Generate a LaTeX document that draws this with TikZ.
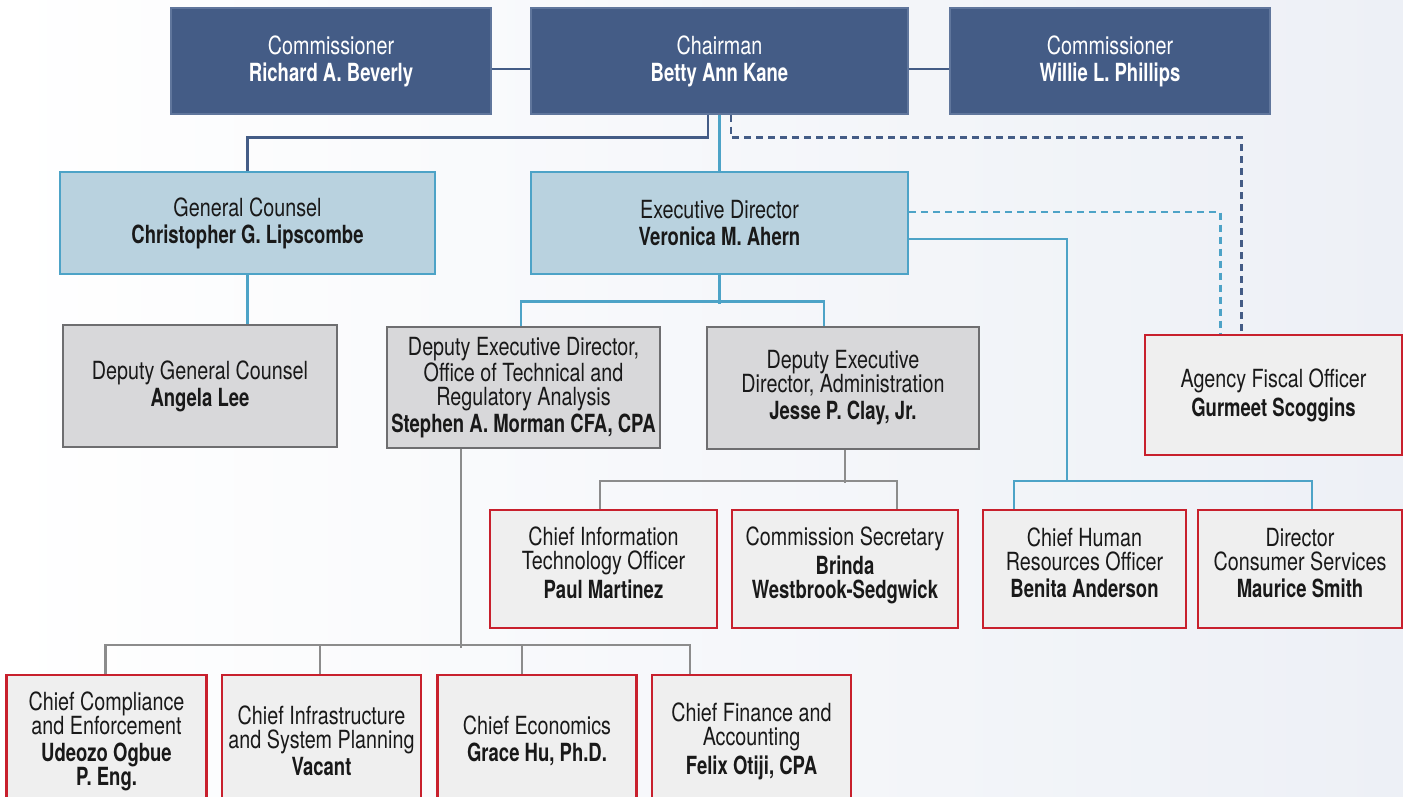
\documentclass[tikz,border=0pt]{standalone}
\usepackage{fontspec}
\setmainfont{TeX Gyre Heros}[FakeStretch=0.79, BoldFeatures={FakeStretch=0.74}]
\usetikzlibrary{calc}

\definecolor{navy}{RGB}{68,92,134}
\definecolor{navyline}{RGB}{96,118,156}
\definecolor{paleblue}{RGB}{185,210,223}
\definecolor{skyline}{RGB}{77,163,199}
\definecolor{deputygray}{RGB}{216,216,218}
\definecolor{deputyline}{RGB}{110,110,112}
\definecolor{chiefgray}{RGB}{239,239,239}
\definecolor{chiefred}{RGB}{200,32,45}
\definecolor{linkgray}{RGB}{140,140,140}
\definecolor{ink}{RGB}{25,25,25}
\definecolor{bgright}{RGB}{237,240,246}

\begin{document}
\begin{tikzpicture}[x=0.5pt, y=-0.5pt,
  box/.style={draw, rectangle, align=center, inner sep=0pt, text=ink,
    font=\fontsize{12.5}{12}\selectfont},
  board/.style={box, fill=navy, draw=navyline, line width=0.6pt, text=white},
  office/.style={box, fill=paleblue, draw=skyline, line width=1.2pt},
  deputy/.style={box, fill=deputygray, draw=deputyline, line width=1.4pt},
  chief/.style={box, fill=chiefgray, draw=chiefred, line width=1.2pt},
  lifted/.style={text depth=6pt},
  boardlink/.style={draw=navy, line width=1.2pt},
  skylink/.style={draw=skyline, line width=1.2pt},
  greylink/.style={draw=linkgray, line width=1.3pt},
  dotted link/.style={dash pattern=on 3.5pt off 2.5pt}
]

\path [use as bounding box] (0,0) rectangle (1403,797);
\clip (0,0) rectangle (1403,797);
\shade [left color=white, right color=bgright] (0,0) rectangle (1403,797);

% BOARD
\node [board, minimum width=160pt, minimum height=53pt] (rbev) at (331,61)
  {Commissioner\\[1.5pt]\textbf{Richard A. Beverly}};
\node [board, minimum width=188.5pt, minimum height=53pt] (chair) at (719.5,61)
  {Chairman\\[1.5pt]\textbf{Betty Ann Kane}};
\node [board, minimum width=160pt, minimum height=53pt] (wphil) at (1110,61)
  {Commissioner\\[1.5pt]\textbf{Willie L. Phillips}};

% OFFICES
\node [office, minimum width=187.5pt, minimum height=51pt] (gc) at (247.5,223)
  {General Counsel\\[1.5pt]\textbf{Christopher G. Lipscombe}};
\node [office, minimum width=188.5pt, minimum height=51pt] (ed) at (719.5,223)
  {Executive Director\\[1.5pt]\textbf{Veronica M. Ahern}};

% DEPUTIES
\node [deputy, minimum width=137pt, minimum height=61pt] (dgc) at (200,386)
  {Deputy General Counsel\\[1.5pt]\textbf{Angela Lee}};
\node [deputy, minimum width=136.5pt, minimum height=60.5pt] (dedt) at (523.5,387.5)
  {Deputy Executive Director,\\Office of Technical and\\Regulatory Analysis\\[1.5pt]\textbf{Stephen A. Morman CFA, CPA}};
\node [deputy, minimum width=136pt, minimum height=61pt] (deda) at (843,388)
  {Deputy Executive\\Director, Administration\\[1.5pt]\textbf{Jesse P. Clay, Jr.}};

% CHIEFS
\node [chief, minimum width=128.5pt, minimum height=60pt] (afo) at (1273.5,395)
  {Agency Fiscal Officer\\[1.5pt]\textbf{Gurmeet Scoggins}};
\node [chief, lifted, minimum width=113.5pt, minimum height=59pt] (cito) at (603.5,569)
  {Chief Information\\Technology Officer\\[1.5pt]\textbf{Paul Martinez}};
\node [chief, lifted, minimum width=113pt, minimum height=59pt] (csec) at (845,569)
  {Commission Secretary\\[1.5pt]\textbf{Brinda}\\\textbf{Westbrook-Sedgwick}};
\node [chief, lifted, minimum width=101.5pt, minimum height=59pt] (chro) at (1084.5,569)
  {Chief Human\\Resources Officer\\[1.5pt]\textbf{Benita Anderson}};
\node [chief, lifted, minimum width=102pt, minimum height=59pt] (dcs) at (1300,569)
  {Director\\Consumer Services\\[1.5pt]\textbf{Maurice Smith}};
\node [chief, minimum width=100pt, minimum height=66pt] (ccomp) at (106.5,741)
  {Chief Compliance\\and Enforcement\\[1.5pt]\textbf{Udeozo Ogbue}\\\textbf{P. Eng.}};
\node [chief, minimum width=99.5pt, minimum height=66pt] (cinfra) at (321.5,741)
  {Chief Infrastructure\\and System Planning\\[1.5pt]\textbf{Vacant}};
\node [chief, minimum width=99.5pt, minimum height=66pt] (cecon) at (537,741)
  {Chief Economics\\[1.5pt]\textbf{Grace Hu, Ph.D.}};
\node [chief, minimum width=99.5pt, minimum height=66pt] (cfin) at (751.5,741)
  {Chief Finance and\\Accounting\\[1.5pt]\textbf{Felix Otiji, CPA}};

% BOARD LINKS
\draw [boardlink] ($(rbev.east)+(0,8)$) -- ($(chair.west)+(0,8)$);
\draw [boardlink] ($(chair.east)+(0,8)$) -- ($(wphil.west)+(0,8)$);
\draw [boardlink] ($(chair.south)+(-11.5,0)$) -- ++(0,23) -| (gc.north);
\draw [skylink] (chair.south) -- (ed.north);
\draw [boardlink, dotted link] ($(chair.south)+(11.5,0)$) -- ++(0,23) -| ($(afo.north)+(-32,0)$);

% EXECUTIVE LINKS
\draw [skylink, dotted link] ($(ed.east)+(0,-11)$) -| ($(afo.north)+(-53,0)$);
\draw [skylink] ($(ed.east)+(0,16)$) -| ($(chro.north)+(-17.5,-28)$);
\draw [skylink] ($(chro.north)+(-70.5,0)$) -- ++(0,-28) -| ($(dcs.north)+(12,0)$);
\draw [skylink] (ed.south) -- ++(0,29);
\draw [skylink] ($(dedt.north)+(-2.5,0)$) -- ++(0,-24) -| ($(deda.north)+(-19,0)$);
\draw [skylink] (gc.south) -- (gc.south |- dgc.north);

% DEPUTY LINKS
\draw [greylink] ($(deda.south)+(2,0)$) -- ++(0,33);
\draw [greylink] ($(cito.north)+(-3.5,0)$) -- ++(0,-28) -| ($(csec.north)+(52,0)$);
\draw [greylink] ($(dedt.south)+(-62.5,0)$) -- ++(0,199);
\draw [greylink] ($(ccomp.north)+(-1,0)$) -- ++(0,-29) -| ($(cfin.north)+(-61.5,0)$);
\draw [greylink] ($(cinfra.north)+(-1.5,0)$) -- ++(0,-29);
\draw [greylink] ($(cecon.north)+(-15,0)$) -- ++(0,-29);

\end{tikzpicture}
\end{document}
